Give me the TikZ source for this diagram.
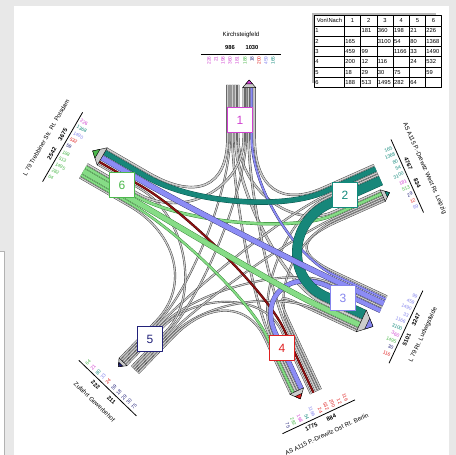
\documentclass[tikz,border=0pt]{standalone}
\usepackage{fontspec}
\setmainfont{Liberation Sans}
\usetikzlibrary{calc,matrix}

\definecolor{pagebg}{HTML}{E8E8E8}
\definecolor{armA}{HTML}{D040D0}
\definecolor{armB}{HTML}{138A7C}
\definecolor{armC}{HTML}{8585EE}
\definecolor{armD}{HTML}{E02020}
\definecolor{armE}{HTML}{22227A}
\definecolor{armF}{HTML}{4CB84C}
% band colours
\definecolor{tealfill}{HTML}{17877A}
\definecolor{tealedge}{HTML}{0A4D45}
\definecolor{lavfill}{HTML}{8C8CF5}
\definecolor{lavedge}{HTML}{35356E}
\definecolor{grnfill}{HTML}{86DC86}
\definecolor{grnedge}{HTML}{2E7D2E}
\definecolor{redfill}{HTML}{8E1212}
\definecolor{rededge}{HTML}{3A0000}

% arm data (arms 1..6): angle, start of curves, end of inbound lane, arrow tip, outbound lane width, label line
\def\armang{{90,24,-25,-65,-134,150}}
\def\armcurve{{112,100,95,90,110,118}}
\def\armout{{165,156,152,160,160,176}}
\def\armtip{{170,159,152,160,169,178}}
\def\armoutw{{14.88,14.37,25.47,16.81,12.78,21.75}}
\def\armlab{{196,182,182,184,192,206}}
\def\numrot{{90,24,-25,-65,46,-30}}
\def\numanc{{"east","east","east","east","west","west"}}

% one stream: from arm #1 to arm #2, lane offsets #3/#4, width #5, edge #6, fill #7
\newcommand{\drawflow}[7]{%
  \pgfmathsetmacro\angs{\armang[int(#1-1)]}%
  \pgfmathsetmacro\angd{\armang[int(#2-1)]}%
  \pgfmathsetmacro\rcs{\armcurve[int(#1-1)]}%
  \pgfmathsetmacro\rcd{\armcurve[int(#2-1)]}%
  \pgfmathsetmacro\kcs{0.55*\rcs}%
  \pgfmathsetmacro\kcd{0.55*\rcd}%
  \pgfmathsetmacro\ros{\armout[int(#1-1)]}%
  \pgfmathsetmacro\rod{\armtip[int(#2-1)]-0.5*(\armoutw[int(#2-1)]-1.5)-1}%
  \pgfmathsetmacro\bwin{#5-0.8}%
  \coordinate (fa) at ([shift={(\angs+90:#3)}]\angs:\ros);
  \coordinate (fb) at ([shift={(\angs+90:#3)}]\angs:\rcs);
  \coordinate (fc) at ([shift={(\angs+90:#3)}]\angs:\kcs);
  \coordinate (fd) at ([shift={(\angd-90:#4)}]\angd:\kcd);
  \coordinate (fe) at ([shift={(\angd-90:#4)}]\angd:\rcd);
  \coordinate (ff) at ([shift={(\angd-90:#4)}]\angd:\rod);
  \draw[line width=#5pt, #6] (fa) -- (fb) .. controls (fc) and (fd) .. (fe) -- (ff);
  \draw[line width=\bwin pt, #7] (fa) -- (fb) .. controls (fc) and (fd) .. (fe) -- (ff);
}

\begin{document}
\begin{tikzpicture}[x=1pt, y=1pt, line join=round,
  numbox/.style={draw, fill=white, line width=1.3pt, minimum size=25.5pt, inner sep=0pt, font=\fontsize{12}{12}\selectfont},
  vol/.style={font=\fontsize{4.8}{4.8}\selectfont, inner sep=0.2pt},
  tot/.style={font=\bfseries\fontsize{5.8}{5.8}\selectfont, inner sep=0.3pt},
  road/.style={font=\fontsize{6.1}{6.1}\selectfont, inner sep=0.3pt}]

\useasboundingbox (-241,-205) rectangle (215,250);
\fill[pagebg] (-241,-205) rectangle (215,250);
\fill[white] (-227,-205) rectangle (208,244);
\fill[white] (-241,-205) rectangle (-237,-1);
\draw[gray!60, line width=0.4pt] (-237,-205) -- (-237,-1) -- (-241,-1);

% label lines, totals and road names
\foreach \arm/\trot/\tin/\tout/\rname in {
  1/0/986/1030/Kirchsteigfeld,
  2/-66/4767/834/AS A115 P.-Drewitz West Rt. Leipzig,
  3/65/3247/5101/L 79 Rt. Ludwigsfelde,
  4/25/884/1775/AS A115 P.-Drewitz Ost Rt. Berlin,
  5/-44/211/222/Zufahrt Gewerbehof,
  6/60/2542/3675/L 79 Trebbiner Str. Rt. Potsdam}{
  \pgfmathsetmacro\ang{\armang[int(\arm-1)]}
  \pgfmathsetmacro\rl{\armlab[int(\arm-1)]}
  \pgfmathsetmacro\rt{\rl+6}
  \pgfmathsetmacro\rn{\rl+19}
  \coordinate (lA\arm) at ([shift={(\ang+90:40)}]\ang:\rl);
  \coordinate (lB\arm) at ([shift={(\ang-90:40)}]\ang:\rl);
  \draw[line width=0.8pt] (lA\arm) -- (lB\arm);
  \node[tot, rotate=\trot] (tin\arm) at ([shift={(\ang+90:11)}]\ang:\rt) {\tin};
  \node[tot, rotate=\trot] (tout\arm) at ([shift={(\ang-90:11)}]\ang:\rt) {\tout};
  \node[road, rotate=\trot] (road\arm) at (\ang:\rn) {\rname};
}

% stream volumes along the label lines
\foreach \arm/\slot/\val/\col in {
  1/1/181/armA, 1/2/360/armA, 1/3/198/armA, 1/4/21/armA, 1/5/226/armA,
  1/-1/188/armF, 1/-2/18/armE, 1/-3/200/armD, 1/-4/459/armC, 1/-5/165/armB,
  2/1/3100/armB, 2/2/54/armB, 2/3/80/armB, 2/4/1368/armB, 2/5/165/armB,
  2/-1/181/armA, 2/-2/513/armF, 2/-3/29/armE, 2/-4/12/armD, 2/-5/99/armC,
  3/1/1166/armC, 3/2/33/armC, 3/3/1490/armC, 3/4/459/armC, 3/5/99/armC,
  3/-1/3100/armB, 3/-2/360/armA, 3/-3/1495/armF, 3/-4/30/armE, 3/-5/116/armD,
  4/1/24/armD, 4/2/532/armD, 4/3/200/armD, 4/4/12/armD, 4/5/116/armD,
  4/-1/1166/armC, 4/-2/54/armB, 4/-3/198/armA, 4/-4/282/armF, 4/-5/75/armE,
  5/1/59/armE, 5/2/18/armE, 5/3/29/armE, 5/4/30/armE, 5/5/75/armE,
  5/-1/24/armD, 5/-2/33/armC, 5/-3/80/armB, 5/-4/21/armA, 5/-5/64/armF,
  6/1/188/armF, 6/2/513/armF, 6/3/1495/armF, 6/4/282/armF, 6/5/64/armF,
  6/-1/59/armE, 6/-2/532/armD, 6/-3/1490/armC, 6/-4/1368/armB, 6/-5/226/armA}{
  \pgfmathsetmacro\ang{\armang[int(\arm-1)]}
  \pgfmathsetmacro\rv{\armlab[int(\arm-1)]-2}
  \pgfmathsetmacro\nrot{\numrot[int(\arm-1)]}
  \pgfmathsetmacro\nanc{\numanc[int(\arm-1)]}
  \pgfmathsetmacro\lat{7*\slot-3*sign(\slot)}
  \node[vol, text=\col, rotate=\nrot, anchor=\nanc] (n\arm\slot) at ([shift={(\ang+90:\lat)}]\ang:\rv) {\val};
}

% small streams
\foreach \src/\dst/\offin/\offout/\bw in {
  1/2/2.69/2.69/2.37, 1/3/5.59/13.18/2.84, 1/4/8.52/10.28/2.41, 1/5/11.0/9.44/1.95, 1/6/13.52/20.51/2.49,
  2/1/23.44/13.72/2.33, 2/4/12.78/7.75/2.04, 2/5/15.16/7.11/2.11,
  3/2/19.56/13.29/2.16, 3/5/7.73/4.76/1.99,
  4/1/8.55/7.65/2.42, 4/2/11.03/10.95/1.93, 4/3/13.39/24.37/2.20, 4/5/2.48/2.48/1.96,
  5/1/4.83/5.17/1.95, 5/2/7.09/8.69/1.98, 5/3/9.37/21.98/1.98, 5/4/11.71/15.76/2.10, 5/6/2.53/2.53/2.05,
  6/1/2.70/2.70/2.39, 6/5/17.78/11.75/2.07}{
  \drawflow{\src}{\dst}{\offin}{\offout}{\bw}{black!80}{gray!40}
}

% main streams
\foreach \src/\dst/\offin/\offout/\bw/\edge/\fillc in {
  6/4/15.13/13.10/2.63/grnedge/grnfill, 6/2/5.81/5.79/3.23/grnedge/grnfill,
  3/1/16.64/10.71/2.5/lavedge/lavfill, 4/6/5.40/5.49/2.3/rededge/redfill,
  2/6/19.24/16.23/5.46/tealedge/tealfill, 3/4/3.97/3.97/4.93/lavedge/lavfill,
  2/3/6.48/6.48/9.96/tealedge/tealfill, 3/6/11.91/10.32/5.77/lavedge/lavfill,
  6/3/10.62/17.80/5.79/grnedge/grnfill}{
  \drawflow{\src}{\dst}{\offin}{\offout}{\bw}{\edge}{\fillc}
}

% arrow tips of the exits
\foreach \arm/\col in {1/armA, 2/armB, 3/armC, 4/armD, 5/armE, 6/armF}{
  \pgfmathsetmacro\ang{\armang[int(\arm-1)]}
  \pgfmathsetmacro\outw{\armoutw[int(\arm-1)]}
  \pgfmathsetmacro\rtip{\armtip[int(\arm-1)]}
  \pgfmathsetmacro\rbase{\rtip-0.5*(\outw-1.5)-1}
  \pgfmathsetmacro\tmid{(1.5+\outw)/2}
  \coordinate (pa\arm) at ([shift={(\ang-90:1.5)}]\ang:\rbase);
  \coordinate (pb\arm) at ([shift={(\ang-90:\outw)}]\ang:\rbase);
  \coordinate (tip\arm) at ([shift={(\ang-90:\tmid)}]\ang:\rtip);
  \filldraw[fill=gray!40, line width=0.4pt] (pa\arm) -- (pb\arm) -- (tip\arm) -- cycle;
  \filldraw[fill=\col, line width=0.4pt] ($(pa\arm)!0.5!(tip\arm)$) -- ($(pb\arm)!0.5!(tip\arm)$) -- (tip\arm) -- cycle;
}

% arm numbers
\node[numbox, draw=armA, text=armA] (box1) at (-1,130) {1};
\node[numbox, draw=armB, text=armB] (box2) at (104,55) {2};
\node[numbox, draw=armC, text=armC] (box3) at (102,-48) {3};
\node[numbox, draw=armD, text=armD] (box4) at (41,-98) {4};
\node[numbox, draw=armE, text=armE] (box5) at (-91,-89) {5};
\node[numbox, draw=armF, text=armF] (box6) at (-119,65) {6};

% origin-destination table
\fill[gray!55] (71.2,236.8) rectangle (195.5,167.3);
\matrix (vn) [matrix of nodes, anchor=north west, nodes in empty cells,
  column sep=-0.5pt, row sep=-0.5pt,
  nodes={draw, fill=white, line width=0.5pt, anchor=center, font=\fontsize{5.8}{6}\selectfont,
    text width=14.2pt, align=left, inner xsep=1pt, inner ysep=0pt, minimum height=10.3pt},
  column 1/.style={nodes={text width=28pt}},
  row 1/.style={nodes={align=center}}] at (69.7,238.3) {
  Von\textbackslash Nach & 1 & 2 & 3 & 4 & 5 & 6 \\
  1 & & 181 & 360 & 198 & 21 & 226 \\
  2 & 165 & & 3100 & 54 & 80 & 1368 \\
  3 & 459 & 99 & & 1166 & 33 & 1490 \\
  4 & 200 & 12 & 116 & & 24 & 532 \\
  5 & 18 & 29 & 30 & 75 & & 59 \\
  6 & 188 & 513 & 1495 & 282 & 64 & \\
};
\end{tikzpicture}
\end{document}
